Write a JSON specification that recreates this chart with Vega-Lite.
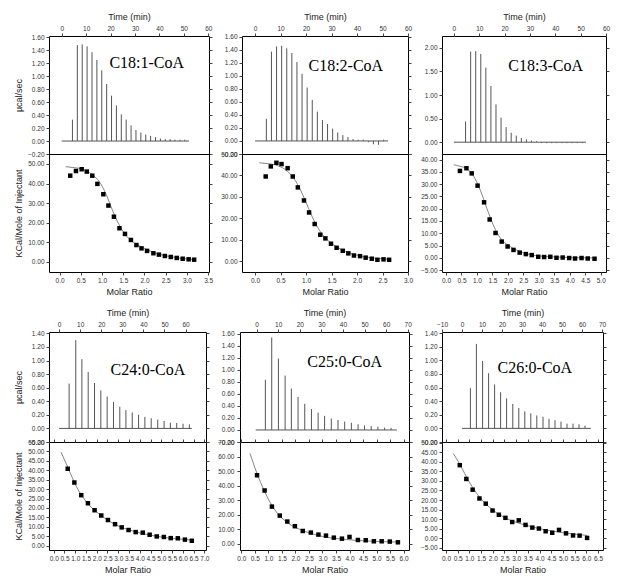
{
  "$schema": "https://vega.github.io/schema/vega-lite/v6.json",
  "background": "white",
  "padding": {"left": 14, "top": 11, "right": 0, "bottom": 0},
  "config": {
    "view": {"stroke": "#000", "strokeWidth": 1},
    "axis": {"labelFont": "Liberation Sans", "titleFont": "Liberation Sans", "labelFontSize": 6.5, "titleFontSize": 9, "titleFontWeight": "normal", "labelColor": "#333", "titleColor": "#222", "tickColor": "#444", "tickSize": 3, "labelPadding": 2, "titlePadding": 4, "grid": false, "domain": false, "labelOverlap": false, "labelFlush": false}
  },
  "spacing": 10,
  "vconcat": [
    {
      "spacing": 6,
      "hconcat": [
        {
          "spacing": 0, "bounds": "flush",
          "vconcat": [
            {
              "width": 160, "height": 118,
              "resolve": {"axis": {"x": "independent", "y": "independent"}},
              "layer": [
                {"data": {"values": [{"t":4.4,"h":0.33},{"t":6.4,"h":1.48},{"t":8.4,"h":1.49},{"t":10.4,"h":1.46},{"t":12.4,"h":1.37},{"t":14.4,"h":1.25},{"t":16.4,"h":1.09},{"t":18.4,"h":0.88},{"t":20.4,"h":0.70},{"t":22.4,"h":0.55},{"t":24.4,"h":0.41},{"t":26.4,"h":0.33},{"t":28.4,"h":0.24},{"t":30.4,"h":0.17},{"t":32.4,"h":0.13},{"t":34.4,"h":0.10},{"t":36.4,"h":0.08},{"t":38.4,"h":0.06},{"t":40.4,"h":0.04},{"t":42.4,"h":0.03},{"t":44.4,"h":0.03},{"t":46.4,"h":0.02},{"t":48.4,"h":0.02},{"t":50.4,"h":0.02}]},
                 "mark": {"type": "rule", "color": "#555", "strokeWidth": 1, "clip": true},
                 "encoding": {
                   "x": {"field": "t", "type": "quantitative", "scale": {"domain": [-5.2, 60.3], "nice": false, "zero": false}, "axis": {"orient": "top", "title": "Time (min)", "values": [0,10,20,30,40,50,60], "format": "d"}},
                   "y": {"field": "h", "type": "quantitative", "scale": {"domain": [-0.2, 1.62], "nice": false, "zero": false}, "axis": {"orient": "left", "title": "µcal/sec", "values": [-0.2,0,0.2,0.4,0.6,0.8,1,1.2,1.4,1.6], "format": ".2f"}},
                   "y2": {"datum": 0}
                 }},
                {"data": {"values": [{"start": 0, "end": 52.1, "level": 0}]},
                 "mark": {"type": "rule", "color": "#555", "strokeWidth": 1},
                 "encoding": {
                   "x": {"field": "start", "type": "quantitative", "scale": {"domain": [-5.2, 60.3], "nice": false, "zero": false}, "axis": null},
                   "x2": {"field": "end"},
                   "y": {"field": "level", "type": "quantitative", "scale": {"domain": [-0.2, 1.62], "nice": false, "zero": false}, "axis": {"orient": "right", "labels": false, "title": null, "values": [-0.2,0,0.2,0.4,0.6,0.8,1,1.2,1.4,1.6]}}
                 }},
                {"data": {"values": [{}]},
                 "mark": {"type": "text", "font": "Liberation Serif", "fontSize": 16, "color": "#000"},
                 "encoding": {
                   "x": {"datum": 34.8, "type": "quantitative", "scale": {"domain": [-5.2, 60.3], "nice": false, "zero": false}, "axis": null},
                   "y": {"datum": 1.2, "type": "quantitative", "scale": {"domain": [-0.2, 1.62], "nice": false, "zero": false}, "axis": null},
                   "text": {"value": "C18:1-CoA"}
                 }}
              ]
            },
            {
              "width": 160, "height": 118,
              "resolve": {"axis": {"x": "independent", "y": "independent"}},
              "layer": [
                {"data": {"values": [{"r":0.14,"q":48.6},{"r":0.35,"q":48.1},{"r":0.53,"q":47.4},{"r":0.77,"q":44.5},{"r":0.93,"q":41.1},{"r":1.08,"q":35.2},{"r":1.24,"q":26.6},{"r":1.40,"q":18.9},{"r":1.55,"q":13.8},{"r":1.71,"q":10.4},{"r":1.95,"q":7.3},{"r":2.26,"q":4.4},{"r":2.65,"q":2.4},{"r":3.17,"q":1.0}]},
                 "mark": {"type": "line", "color": "#666", "strokeWidth": 0.8, "interpolate": "monotone", "clip": true},
                 "encoding": {
                   "x": {"field": "r", "type": "quantitative", "scale": {"domain": [-0.25, 3.52], "nice": false, "zero": false}, "axis": null},
                   "y": {"field": "q", "type": "quantitative", "scale": {"domain": [-5.3, 55.1], "nice": false, "zero": false}, "axis": {"orient": "right", "labels": false, "title": null, "values": [0,10,20,30,40,50]}}
                 }},
                {"data": {"values": [{"r":0.25,"q":44.0},{"r":0.385,"q":46.4},{"r":0.52,"q":47.3},{"r":0.64,"q":46.1},{"r":0.77,"q":44.0},{"r":0.89,"q":39.8},{"r":1.03,"q":34.5},{"r":1.15,"q":28.7},{"r":1.28,"q":23.0},{"r":1.41,"q":17.1},{"r":1.54,"q":14.2},{"r":1.68,"q":11.1},{"r":1.81,"q":8.5},{"r":1.93,"q":6.8},{"r":2.06,"q":5.5},{"r":2.21,"q":4.3},{"r":2.34,"q":3.6},{"r":2.48,"q":2.9},{"r":2.62,"q":2.4},{"r":2.76,"q":1.9},{"r":2.90,"q":1.5},{"r":3.04,"q":1.2},{"r":3.17,"q":1.0}]},
                 "mark": {"type": "square", "color": "#000", "opacity": 1, "size": 20, "clip": true},
                 "encoding": {
                   "x": {"field": "r", "type": "quantitative", "scale": {"domain": [-0.25, 3.52], "nice": false, "zero": false}, "axis": {"orient": "bottom", "title": "Molar Ratio", "values": [0,0.5,1,1.5,2,2.5,3,3.5], "format": ".1f"}},
                   "y": {"field": "q", "type": "quantitative", "scale": {"domain": [-5.3, 55.1], "nice": false, "zero": false}, "axis": {"orient": "left", "title": "KCal/Mole of Injectant", "values": [0,10,20,30,40,50], "format": ".2f"}}
                 }}
              ]
            }
          ]
        },
        {
          "spacing": 0, "bounds": "flush",
          "vconcat": [
            {
              "width": 166, "height": 118,
              "resolve": {"axis": {"x": "independent", "y": "independent"}},
              "layer": [
                {"data": {"values": [{"t":4.45,"h":0.34},{"t":6.45,"h":1.37},{"t":8.45,"h":1.45},{"t":10.45,"h":1.46},{"t":12.45,"h":1.42},{"t":14.45,"h":1.35},{"t":16.45,"h":1.21},{"t":18.45,"h":1.03},{"t":20.45,"h":0.82},{"t":22.45,"h":0.63},{"t":24.45,"h":0.45},{"t":26.45,"h":0.32},{"t":28.45,"h":0.26},{"t":30.45,"h":0.19},{"t":32.45,"h":0.13},{"t":34.45,"h":0.09},{"t":36.45,"h":0.06},{"t":38.45,"h":0.03},{"t":40.45,"h":0.02},{"t":42.45,"h":0.02},{"t":44.45,"h":-0.02},{"t":46.45,"h":-0.05},{"t":48.45,"h":-0.06},{"t":50.45,"h":0.02}]},
                 "mark": {"type": "rule", "color": "#555", "strokeWidth": 1, "clip": true},
                 "encoding": {
                   "x": {"field": "t", "type": "quantitative", "scale": {"domain": [-5.1, 60], "nice": false, "zero": false}, "axis": {"orient": "top", "title": "Time (min)", "values": [0,10,20,30,40,50,60], "format": "d"}},
                   "y": {"field": "h", "type": "quantitative", "scale": {"domain": [-0.2, 1.61], "nice": false, "zero": false}, "axis": {"orient": "left", "title": null, "values": [-0.2,0,0.2,0.4,0.6,0.8,1,1.2,1.4,1.6], "format": ".2f"}},
                   "y2": {"datum": 0}
                 }},
                {"data": {"values": [{"start": 0, "end": 52.2, "level": 0}]},
                 "mark": {"type": "rule", "color": "#555", "strokeWidth": 1},
                 "encoding": {
                   "x": {"field": "start", "type": "quantitative", "scale": {"domain": [-5.1, 60], "nice": false, "zero": false}, "axis": null},
                   "x2": {"field": "end"},
                   "y": {"field": "level", "type": "quantitative", "scale": {"domain": [-0.2, 1.61], "nice": false, "zero": false}, "axis": {"orient": "right", "labels": false, "title": null, "values": [-0.2,0,0.2,0.4,0.6,0.8,1,1.2,1.4,1.6]}}
                 }},
                {"data": {"values": [{}]},
                 "mark": {"type": "text", "font": "Liberation Serif", "fontSize": 16, "color": "#000"},
                 "encoding": {
                   "x": {"datum": 35.6, "type": "quantitative", "scale": {"domain": [-5.1, 60], "nice": false, "zero": false}, "axis": null},
                   "y": {"datum": 1.156, "type": "quantitative", "scale": {"domain": [-0.2, 1.61], "nice": false, "zero": false}, "axis": null},
                   "text": {"value": "C18:2-CoA"}
                 }}
              ]
            },
            {
              "width": 166, "height": 118,
              "resolve": {"axis": {"x": "independent", "y": "independent"}},
              "layer": [
                {"data": {"values": [{"r":0.085,"q":45.9},{"r":0.25,"q":45.5},{"r":0.40,"q":44.9},{"r":0.60,"q":42.6},{"r":0.76,"q":38.7},{"r":0.89,"q":33.3},{"r":1.02,"q":26.3},{"r":1.15,"q":19.3},{"r":1.28,"q":13.8},{"r":1.45,"q":9.2},{"r":1.64,"q":6.1},{"r":1.91,"q":3.4},{"r":2.23,"q":1.7},{"r":2.63,"q":0.9}]},
                 "mark": {"type": "line", "color": "#666", "strokeWidth": 0.8, "interpolate": "monotone", "clip": true},
                 "encoding": {
                   "x": {"field": "r", "type": "quantitative", "scale": {"domain": [-0.255, 3.0], "nice": false, "zero": false}, "axis": null},
                   "y": {"field": "q", "type": "quantitative", "scale": {"domain": [-5.1, 50], "nice": false, "zero": false}, "axis": {"orient": "right", "labels": false, "title": null, "values": [0,10,20,30,40,50]}}
                 }},
                {"data": {"values": [{"r":0.21,"q":39.5},{"r":0.31,"q":44.2},{"r":0.42,"q":45.9},{"r":0.52,"q":45.3},{"r":0.64,"q":43.4},{"r":0.74,"q":39.5},{"r":0.84,"q":34.4},{"r":0.96,"q":28.3},{"r":1.06,"q":22.7},{"r":1.17,"q":17.3},{"r":1.28,"q":12.3},{"r":1.38,"q":10.6},{"r":1.49,"q":8.1},{"r":1.60,"q":6.2},{"r":1.72,"q":4.8},{"r":1.83,"q":3.6},{"r":1.94,"q":2.6},{"r":2.06,"q":2.3},{"r":2.17,"q":1.6},{"r":2.29,"q":1.1},{"r":2.40,"q":0.6},{"r":2.52,"q":0.8},{"r":2.63,"q":0.6}]},
                 "mark": {"type": "square", "color": "#000", "opacity": 1, "size": 20, "clip": true},
                 "encoding": {
                   "x": {"field": "r", "type": "quantitative", "scale": {"domain": [-0.255, 3.0], "nice": false, "zero": false}, "axis": {"orient": "bottom", "title": "Molar Ratio", "values": [0,0.5,1,1.5,2,2.5,3], "format": ".1f"}},
                   "y": {"field": "q", "type": "quantitative", "scale": {"domain": [-5.1, 50], "nice": false, "zero": false}, "axis": {"orient": "left", "title": null, "values": [0,10,20,30,40,50], "format": ".2f"}}
                 }}
              ]
            }
          ]
        },
        {
          "spacing": 0, "bounds": "flush",
          "vconcat": [
            {
              "width": 164, "height": 118,
              "resolve": {"axis": {"x": "independent", "y": "independent"}},
              "layer": [
                {"data": {"values": [{"t":4.6,"h":0.44},{"t":6.6,"h":1.92},{"t":8.6,"h":1.93},{"t":10.6,"h":1.87},{"t":12.6,"h":1.58},{"t":14.6,"h":1.19},{"t":16.6,"h":0.80},{"t":18.6,"h":0.52},{"t":20.6,"h":0.32},{"t":22.6,"h":0.20},{"t":24.6,"h":0.14},{"t":26.6,"h":0.09},{"t":28.6,"h":0.06},{"t":30.6,"h":0.035},{"t":32.6,"h":0.02},{"t":34.6,"h":-0.02},{"t":36.6,"h":-0.02},{"t":38.6,"h":-0.02},{"t":40.6,"h":-0.02},{"t":42.6,"h":-0.02},{"t":44.6,"h":-0.02},{"t":46.6,"h":-0.02},{"t":48.6,"h":-0.02},{"t":50.6,"h":-0.02}]},
                 "mark": {"type": "rule", "color": "#555", "strokeWidth": 1, "clip": true},
                 "encoding": {
                   "x": {"field": "t", "type": "quantitative", "scale": {"domain": [-4.7, 60], "nice": false, "zero": false}, "axis": {"orient": "top", "title": "Time (min)", "values": [0,10,20,30,40,50,60], "format": "d"}},
                   "y": {"field": "h", "type": "quantitative", "scale": {"domain": [-0.25, 2.25], "nice": false, "zero": false}, "axis": {"orient": "left", "title": null, "values": [0,0.5,1,1.5,2], "format": ".2f"}},
                   "y2": {"datum": 0}
                 }},
                {"data": {"values": [{"start": 0, "end": 52.1, "level": 0}]},
                 "mark": {"type": "rule", "color": "#555", "strokeWidth": 1},
                 "encoding": {
                   "x": {"field": "start", "type": "quantitative", "scale": {"domain": [-4.7, 60], "nice": false, "zero": false}, "axis": null},
                   "x2": {"field": "end"},
                   "y": {"field": "level", "type": "quantitative", "scale": {"domain": [-0.25, 2.25], "nice": false, "zero": false}, "axis": {"orient": "right", "labels": false, "title": null, "values": [0,0.5,1,1.5,2]}}
                 }},
                {"data": {"values": [{}]},
                 "mark": {"type": "text", "font": "Liberation Serif", "fontSize": 16, "color": "#000"},
                 "encoding": {
                   "x": {"datum": 36.2, "type": "quantitative", "scale": {"domain": [-4.7, 60], "nice": false, "zero": false}, "axis": null},
                   "y": {"datum": 1.61, "type": "quantitative", "scale": {"domain": [-0.25, 2.25], "nice": false, "zero": false}, "axis": null},
                   "text": {"value": "C18:3-CoA"}
                 }}
              ]
            },
            {
              "width": 164, "height": 118,
              "resolve": {"axis": {"x": "independent", "y": "independent"}},
              "layer": [
                {"data": {"values": [{"r":0.25,"q":37.9},{"r":0.45,"q":37.3},{"r":0.68,"q":36.2},{"r":0.89,"q":33.3},{"r":1.11,"q":27.5},{"r":1.32,"q":20.1},{"r":1.54,"q":13.0},{"r":1.75,"q":8.1},{"r":2.02,"q":5.0},{"r":2.29,"q":3.1},{"r":2.72,"q":1.3},{"r":3.37,"q":0.4},{"r":4.80,"q":-0.1}]},
                 "mark": {"type": "line", "color": "#666", "strokeWidth": 0.8, "interpolate": "monotone", "clip": true},
                 "encoding": {
                   "x": {"field": "r", "type": "quantitative", "scale": {"domain": [-0.13, 5.17], "nice": false, "zero": false}, "axis": null},
                   "y": {"field": "q", "type": "quantitative", "scale": {"domain": [-5.8, 42.3], "nice": false, "zero": false}, "axis": {"orient": "right", "labels": false, "title": null, "values": [-5,0,5,10,15,20,25,30,35,40]}}
                 }},
                {"data": {"values": [{"r":0.45,"q":35.4},{"r":0.66,"q":36.5},{"r":0.83,"q":34.4},{"r":1.02,"q":29.4},{"r":1.23,"q":22.6},{"r":1.41,"q":15.6},{"r":1.60,"q":10.1},{"r":1.80,"q":6.6},{"r":1.99,"q":4.6},{"r":2.18,"q":3.2},{"r":2.38,"q":2.1},{"r":2.58,"q":1.5},{"r":2.77,"q":1.1},{"r":2.98,"q":0.4},{"r":3.17,"q":0.3},{"r":3.37,"q":0.4},{"r":3.57,"q":0.0},{"r":3.77,"q":0.1},{"r":3.98,"q":-0.1},{"r":4.17,"q":-0.3},{"r":4.38,"q":-0.1},{"r":4.58,"q":-0.3},{"r":4.80,"q":-0.4}]},
                 "mark": {"type": "square", "color": "#000", "opacity": 1, "size": 20, "clip": true},
                 "encoding": {
                   "x": {"field": "r", "type": "quantitative", "scale": {"domain": [-0.13, 5.17], "nice": false, "zero": false}, "axis": {"orient": "bottom", "title": "Molar Ratio", "values": [0,0.5,1,1.5,2,2.5,3,3.5,4,4.5,5], "format": ".1f"}},
                   "y": {"field": "q", "type": "quantitative", "scale": {"domain": [-5.8, 42.3], "nice": false, "zero": false}, "axis": {"orient": "left", "title": null, "values": [-5,0,5,10,15,20,25,30,35,40], "format": ".2f"}}
                 }}
              ]
            }
          ]
        }
      ]
    },
    {
      "spacing": 7,
      "hconcat": [
        {
          "spacing": 0, "bounds": "flush",
          "vconcat": [
            {
              "width": 157, "height": 110,
              "resolve": {"axis": {"x": "independent", "y": "independent"}},
              "layer": [
                {"data": {"values": [{"t":4.75,"h":0.66},{"t":7.9,"h":1.30},{"t":10.8,"h":1.02},{"t":13.8,"h":0.83},{"t":16.8,"h":0.67},{"t":19.8,"h":0.56},{"t":22.8,"h":0.47},{"t":25.8,"h":0.39},{"t":28.8,"h":0.32},{"t":31.7,"h":0.27},{"t":34.7,"h":0.235},{"t":37.7,"h":0.20},{"t":40.7,"h":0.17},{"t":43.7,"h":0.15},{"t":46.8,"h":0.13},{"t":49.8,"h":0.11},{"t":52.8,"h":0.085},{"t":55.8,"h":0.08},{"t":58.8,"h":0.07},{"t":61.8,"h":0.06}]},
                 "mark": {"type": "rule", "color": "#555", "strokeWidth": 1, "clip": true},
                 "encoding": {
                   "x": {"field": "t", "type": "quantitative", "scale": {"domain": [-4.8, 69.7], "nice": false, "zero": false}, "axis": {"orient": "top", "title": "Time (min)", "values": [0,10,20,30,40,50,60,70], "format": "d"}},
                   "y": {"field": "h", "type": "quantitative", "scale": {"domain": [-0.2, 1.42], "nice": false, "zero": false}, "axis": {"orient": "left", "title": "µcal/sec", "values": [-0.2,0,0.2,0.4,0.6,0.8,1,1.2,1.4], "format": ".2f"}},
                   "y2": {"datum": 0}
                 }},
                {"data": {"values": [{"start": 0, "end": 63, "level": 0}]},
                 "mark": {"type": "rule", "color": "#555", "strokeWidth": 1},
                 "encoding": {
                   "x": {"field": "start", "type": "quantitative", "scale": {"domain": [-4.8, 69.7], "nice": false, "zero": false}, "axis": null},
                   "x2": {"field": "end"},
                   "y": {"field": "level", "type": "quantitative", "scale": {"domain": [-0.2, 1.42], "nice": false, "zero": false}, "axis": {"orient": "right", "labels": false, "title": null, "values": [-0.2,0,0.2,0.4,0.6,0.8,1,1.2,1.4]}}
                 }},
                {"data": {"values": [{}]},
                 "mark": {"type": "text", "font": "Liberation Serif", "fontSize": 16, "color": "#000"},
                 "encoding": {
                   "x": {"datum": 42.1, "type": "quantitative", "scale": {"domain": [-4.8, 69.7], "nice": false, "zero": false}, "axis": null},
                   "y": {"datum": 0.86, "type": "quantitative", "scale": {"domain": [-0.2, 1.42], "nice": false, "zero": false}, "axis": null},
                   "text": {"value": "C24:0-CoA"}
                 }}
              ]
            },
            {
              "width": 157, "height": 108,
              "resolve": {"axis": {"x": "independent", "y": "independent"}},
              "layer": [
                {"data": {"values": [{"r":0.34,"q":49.6},{"r":0.65,"q":41.7},{"r":1.06,"q":31.2},{"r":1.52,"q":23.2},{"r":2.15,"q":16.5},{"r":2.92,"q":10.9},{"r":3.70,"q":7.7},{"r":4.48,"q":5.6},{"r":5.26,"q":4.2},{"r":6.42,"q":3.0}]},
                 "mark": {"type": "line", "color": "#666", "strokeWidth": 0.8, "interpolate": "monotone", "clip": true},
                 "encoding": {
                   "x": {"field": "r", "type": "quantitative", "scale": {"domain": [-0.22, 7.08], "nice": false, "zero": false}, "axis": {"orient": "top", "labels": false, "title": null, "values": [0,0.5,1,1.5,2,2.5,3,3.5,4,4.5,5,5.5,6,6.5,7]}},
                   "y": {"field": "q", "type": "quantitative", "scale": {"domain": [-2.3, 55], "nice": false, "zero": false}, "axis": {"orient": "right", "labels": false, "title": null, "values": [0,5,10,15,20,25,30,35,40,45,50,55]}}
                 }},
                {"data": {"values": [{"r":0.65,"q":40.8},{"r":0.96,"q":33.5},{"r":1.28,"q":26.8},{"r":1.59,"q":22.5},{"r":1.90,"q":18.8},{"r":2.21,"q":16.0},{"r":2.52,"q":13.6},{"r":2.85,"q":11.4},{"r":3.16,"q":9.7},{"r":3.48,"q":8.3},{"r":3.81,"q":7.2},{"r":4.14,"q":6.9},{"r":4.46,"q":5.8},{"r":4.79,"q":4.9},{"r":5.12,"q":4.6},{"r":5.44,"q":4.0},{"r":5.77,"q":3.9},{"r":6.10,"q":3.2},{"r":6.42,"q":2.6}]},
                 "mark": {"type": "square", "color": "#000", "opacity": 1, "size": 20, "clip": true},
                 "encoding": {
                   "x": {"field": "r", "type": "quantitative", "scale": {"domain": [-0.22, 7.08], "nice": false, "zero": false}, "axis": {"orient": "bottom", "title": "Molar Ratio", "values": [0,0.5,1,1.5,2,2.5,3,3.5,4,4.5,5,5.5,6,6.5,7], "format": ".1f"}},
                   "y": {"field": "q", "type": "quantitative", "scale": {"domain": [-2.3, 55], "nice": false, "zero": false}, "axis": {"orient": "left", "title": "KCal/Mole of Injectant", "values": [0,5,10,15,20,25,30,35,40,45,50,55], "format": ".2f"}}
                 }}
              ]
            }
          ]
        },
        {
          "spacing": 0, "bounds": "flush",
          "vconcat": [
            {
              "width": 169, "height": 110,
              "resolve": {"axis": {"x": "independent", "y": "independent"}},
              "layer": [
                {"data": {"values": [{"t":4.05,"h":0.835},{"t":7.0,"h":1.54},{"t":10.1,"h":1.19},{"t":13.2,"h":0.905},{"t":16.1,"h":0.69},{"t":19.2,"h":0.55},{"t":22.3,"h":0.435},{"t":25.4,"h":0.35},{"t":28.5,"h":0.29},{"t":31.5,"h":0.235},{"t":34.6,"h":0.19},{"t":37.7,"h":0.165},{"t":40.8,"h":0.14},{"t":43.9,"h":0.12},{"t":47.0,"h":0.095},{"t":50.0,"h":0.075},{"t":53.1,"h":0.065},{"t":56.2,"h":0.055},{"t":59.3,"h":0.04},{"t":62.3,"h":0.035}]},
                 "mark": {"type": "rule", "color": "#555", "strokeWidth": 1, "clip": true},
                 "encoding": {
                   "x": {"field": "t", "type": "quantitative", "scale": {"domain": [-7.7, 70.6], "nice": false, "zero": false}, "axis": {"orient": "top", "title": "Time (min)", "values": [-10,0,10,20,30,40,50,60,70], "format": "d"}},
                   "y": {"field": "h", "type": "quantitative", "scale": {"domain": [-0.2, 1.63], "nice": false, "zero": false}, "axis": {"orient": "left", "title": null, "values": [-0.2,0,0.2,0.4,0.6,0.8,1,1.2,1.4,1.6], "format": ".2f", "labelPadding": 3}},
                   "y2": {"datum": 0}
                 }},
                {"data": {"values": [{"start": -0.4, "end": 65, "level": 0}]},
                 "mark": {"type": "rule", "color": "#555", "strokeWidth": 1},
                 "encoding": {
                   "x": {"field": "start", "type": "quantitative", "scale": {"domain": [-7.7, 70.6], "nice": false, "zero": false}, "axis": null},
                   "x2": {"field": "end"},
                   "y": {"field": "level", "type": "quantitative", "scale": {"domain": [-0.2, 1.63], "nice": false, "zero": false}, "axis": {"orient": "right", "labels": false, "title": null, "values": [-0.2,0,0.2,0.4,0.6,0.8,1,1.2,1.4,1.6]}}
                 }},
                {"data": {"values": [{}]},
                 "mark": {"type": "text", "font": "Liberation Serif", "fontSize": 16, "color": "#000"},
                 "encoding": {
                   "x": {"datum": 40.8, "type": "quantitative", "scale": {"domain": [-7.7, 70.6], "nice": false, "zero": false}, "axis": null},
                   "y": {"datum": 1.13, "type": "quantitative", "scale": {"domain": [-0.2, 1.63], "nice": false, "zero": false}, "axis": null},
                   "text": {"value": "C25:0-CoA"}
                 }}
              ]
            },
            {
              "width": 169, "height": 108,
              "resolve": {"axis": {"x": "independent", "y": "independent"}},
              "layer": [
                {"data": {"values": [{"r":0.32,"q":62.1},{"r":0.58,"q":48.3},{"r":0.85,"q":36.3},{"r":1.22,"q":23.7},{"r":1.70,"q":14.5},{"r":2.31,"q":8.7},{"r":3.04,"q":4.8},{"r":3.89,"q":2.8},{"r":4.87,"q":1.6},{"r":5.79,"q":1.1}]},
                 "mark": {"type": "line", "color": "#666", "strokeWidth": 0.8, "interpolate": "monotone", "clip": true},
                 "encoding": {
                   "x": {"field": "r", "type": "quantitative", "scale": {"domain": [-0.05, 6.2], "nice": false, "zero": false}, "axis": {"orient": "top", "labels": false, "title": null, "values": [0,0.5,1,1.5,2,2.5,3,3.5,4,4.5,5,5.5,6]}},
                   "y": {"field": "q", "type": "quantitative", "scale": {"domain": [-4.4, 70], "nice": false, "zero": false}, "axis": {"orient": "right", "labels": false, "title": null, "values": [0,10,20,30,40,50,60,70]}}
                 }},
                {"data": {"values": [{"r":0.58,"q":47.1},{"r":0.86,"q":36.6},{"r":1.13,"q":25.5},{"r":1.42,"q":19.3},{"r":1.70,"q":15.2},{"r":1.98,"q":12.0},{"r":2.27,"q":8.7},{"r":2.57,"q":7.6},{"r":2.85,"q":6.2},{"r":3.13,"q":5.5},{"r":3.42,"q":4.1},{"r":3.72,"q":3.4},{"r":4.00,"q":4.6},{"r":4.31,"q":2.5},{"r":4.60,"q":2.3},{"r":4.90,"q":1.6},{"r":5.19,"q":1.6},{"r":5.49,"q":1.4},{"r":5.79,"q":0.9}]},
                 "mark": {"type": "square", "color": "#000", "opacity": 1, "size": 20, "clip": true},
                 "encoding": {
                   "x": {"field": "r", "type": "quantitative", "scale": {"domain": [-0.05, 6.2], "nice": false, "zero": false}, "axis": {"orient": "bottom", "title": "Molar Ratio", "values": [0,0.5,1,1.5,2,2.5,3,3.5,4,4.5,5,5.5,6], "format": ".1f"}},
                   "y": {"field": "q", "type": "quantitative", "scale": {"domain": [-4.4, 70], "nice": false, "zero": false}, "axis": {"orient": "left", "title": null, "values": [0,10,20,30,40,50,60,70], "format": ".2f", "labelPadding": 3}}
                 }}
              ]
            }
          ]
        },
        {
          "spacing": 0, "bounds": "flush",
          "vconcat": [
            {
              "width": 161, "height": 110,
              "resolve": {"axis": {"x": "independent", "y": "independent"}},
              "layer": [
                {"data": {"values": [{"t":4.2,"h":0.59},{"t":7.2,"h":1.24},{"t":10.3,"h":0.99},{"t":13.3,"h":0.81},{"t":16.3,"h":0.645},{"t":19.3,"h":0.53},{"t":22.3,"h":0.44},{"t":25.4,"h":0.36},{"t":28.4,"h":0.30},{"t":31.4,"h":0.25},{"t":34.4,"h":0.22},{"t":37.4,"h":0.19},{"t":40.5,"h":0.17},{"t":43.5,"h":0.14},{"t":46.5,"h":0.12},{"t":49.5,"h":0.10},{"t":52.5,"h":0.07},{"t":55.5,"h":0.07},{"t":58.5,"h":0.06},{"t":61.5,"h":0.04}]},
                 "mark": {"type": "rule", "color": "#555", "strokeWidth": 1, "clip": true},
                 "encoding": {
                   "x": {"field": "t", "type": "quantitative", "scale": {"domain": [-10, 70.5], "nice": false, "zero": false}, "axis": {"orient": "top", "title": "Time (min)", "values": [-10,0,10,20,30,40,50,60,70], "format": "d"}},
                   "y": {"field": "h", "type": "quantitative", "scale": {"domain": [-0.2, 1.415], "nice": false, "zero": false}, "axis": {"orient": "left", "title": null, "values": [-0.2,0,0.2,0.4,0.6,0.8,1,1.2,1.4], "format": ".2f"}},
                   "y2": {"datum": 0}
                 }},
                {"data": {"values": [{"start": 0, "end": 64.4, "level": 0}]},
                 "mark": {"type": "rule", "color": "#555", "strokeWidth": 1},
                 "encoding": {
                   "x": {"field": "start", "type": "quantitative", "scale": {"domain": [-10, 70.5], "nice": false, "zero": false}, "axis": null},
                   "x2": {"field": "end"},
                   "y": {"field": "level", "type": "quantitative", "scale": {"domain": [-0.2, 1.415], "nice": false, "zero": false}, "axis": {"orient": "right", "labels": false, "title": null, "values": [-0.2,0,0.2,0.4,0.6,0.8,1,1.2,1.4]}}
                 }},
                {"data": {"values": [{}]},
                 "mark": {"type": "text", "font": "Liberation Serif", "fontSize": 16, "color": "#000"},
                 "encoding": {
                   "x": {"datum": 36.4, "type": "quantitative", "scale": {"domain": [-10, 70.5], "nice": false, "zero": false}, "axis": null},
                   "y": {"datum": 0.89, "type": "quantitative", "scale": {"domain": [-0.2, 1.415], "nice": false, "zero": false}, "axis": null},
                   "text": {"value": "C26:0-CoA"}
                 }}
              ]
            },
            {
              "width": 161, "height": 108,
              "resolve": {"axis": {"x": "independent", "y": "independent"}},
              "layer": [
                {"data": {"values": [{"r":0.31,"q":44.3},{"r":0.59,"q":38.7},{"r":1.0,"q":29.3},{"r":1.43,"q":21.6},{"r":2.0,"q":14.8},{"r":2.71,"q":9.7},{"r":3.43,"q":6.8},{"r":4.29,"q":4.3},{"r":5.14,"q":2.7},{"r":6.03,"q":1.5}]},
                 "mark": {"type": "line", "color": "#666", "strokeWidth": 0.8, "interpolate": "monotone", "clip": true},
                 "encoding": {
                   "x": {"field": "r", "type": "quantitative", "scale": {"domain": [-0.17, 6.71], "nice": false, "zero": false}, "axis": {"orient": "top", "labels": false, "title": null, "values": [0,0.5,1,1.5,2,2.5,3,3.5,4,4.5,5,5.5,6,6.5]}},
                   "y": {"field": "q", "type": "quantitative", "scale": {"domain": [-6.1, 50.3], "nice": false, "zero": false}, "axis": {"orient": "right", "labels": false, "title": null, "values": [-5,0,5,10,15,20,25,30,35,40,45,50]}}
                 }},
                {"data": {"values": [{"r":0.59,"q":38.2},{"r":0.87,"q":31.0},{"r":1.14,"q":25.4},{"r":1.43,"q":20.8},{"r":1.70,"q":18.1},{"r":1.99,"q":14.5},{"r":2.26,"q":12.3},{"r":2.54,"q":10.7},{"r":2.83,"q":8.5},{"r":3.11,"q":9.4},{"r":3.40,"q":7.0},{"r":3.69,"q":5.6},{"r":3.97,"q":5.1},{"r":4.26,"q":3.7},{"r":4.54,"q":2.9},{"r":4.83,"q":4.4},{"r":5.13,"q":2.6},{"r":5.43,"q":1.5},{"r":5.71,"q":1.4},{"r":6.03,"q":0.2}]},
                 "mark": {"type": "square", "color": "#000", "opacity": 1, "size": 20, "clip": true},
                 "encoding": {
                   "x": {"field": "r", "type": "quantitative", "scale": {"domain": [-0.17, 6.71], "nice": false, "zero": false}, "axis": {"orient": "bottom", "title": "Molar Ratio", "values": [0,0.5,1,1.5,2,2.5,3,3.5,4,4.5,5,5.5,6,6.5], "format": ".1f"}},
                   "y": {"field": "q", "type": "quantitative", "scale": {"domain": [-6.1, 50.3], "nice": false, "zero": false}, "axis": {"orient": "left", "title": null, "values": [-5,0,5,10,15,20,25,30,35,40,45,50], "format": ".2f"}}
                 }}
              ]
            }
          ]
        }
      ]
    }
  ]
}
